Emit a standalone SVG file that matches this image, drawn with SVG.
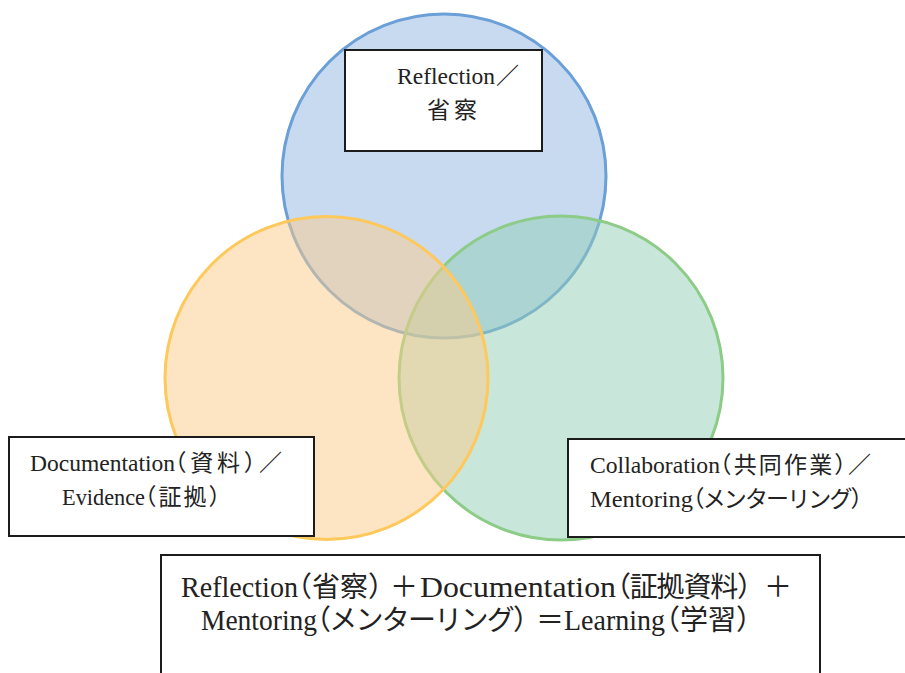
<svg xmlns="http://www.w3.org/2000/svg" width="905" height="673" viewBox="0 0 905 673">
  <style>
    .ring { stroke-width: 3; fill-opacity: 0.5; }
    .box { fill: #ffffff; stroke: #1c1c1c; stroke-width: 2; }
    .lbl { font-family: "Liberation Serif", "Noto Sans CJK JP", serif; font-size: 23px; fill: #222222; }
    .big { font-size: 28px; }
    .wide { font-size: 29px; }
    .cjk { font-feature-settings: "halt" 1; }
  </style>
  <rect width="905" height="673" fill="#ffffff"/>

  <!-- three overlapping circles -->
  <g id="circle-reflection">
    <circle class="ring" cx="444" cy="176" r="162" fill="#8fb5e1" stroke="#6a9fd8"/>
  </g>
  <g id="circle-collaboration">
    <circle class="ring" cx="561" cy="378" r="162" fill="#91cdb5" stroke="#8ccc87"/>
  </g>
  <g id="circle-documentation">
    <circle class="ring" cx="326.5" cy="378" r="161.5" fill="#fbcb89" stroke="#ffc85a"/>
  </g>

  <!-- label boxes -->
  <g id="box-reflection">
    <rect class="box" x="345" y="50" width="197" height="101"/>
    <text class="lbl" y="84"><tspan x="397" textLength="98" lengthAdjust="spacingAndGlyphs">Reflection</tspan><tspan class="cjk" x="496">／</tspan></text>
    <text class="lbl" y="118"><tspan class="cjk" x="427" textLength="50" lengthAdjust="spacing">省察</tspan></text>
  </g>

  <g id="box-documentation">
    <rect class="box" x="9" y="437" width="305" height="99"/>
    <text class="lbl" y="471"><tspan x="30" textLength="145" lengthAdjust="spacingAndGlyphs">Documentation</tspan><tspan class="cjk" x="175" textLength="107" lengthAdjust="spacing">（資料）／</tspan></text>
    <text class="lbl" y="505"><tspan x="62" textLength="83" lengthAdjust="spacingAndGlyphs">Evidence</tspan><tspan class="cjk" x="145" textLength="75" lengthAdjust="spacing">（証拠）</tspan></text>
  </g>

  <g id="box-collaboration">
    <rect class="box" x="568" y="439" width="340" height="98"/>
    <text class="lbl" y="473"><tspan x="590" textLength="130" lengthAdjust="spacingAndGlyphs">Collaboration</tspan><tspan class="cjk" x="720" textLength="151" lengthAdjust="spacing">（共同作業）／</tspan></text>
    <text class="lbl" y="507"><tspan x="590" textLength="103" lengthAdjust="spacingAndGlyphs">Mentoring</tspan><tspan class="cjk" x="693" textLength="169" lengthAdjust="spacing">（メンターリング）</tspan></text>
  </g>

  <g id="box-learning">
    <rect class="box" x="161" y="555" width="659" height="130"/>
    <text class="lbl big" y="597"><tspan class="wide" x="181" textLength="117" lengthAdjust="spacingAndGlyphs">Reflection</tspan><tspan class="cjk" x="298">（省察）</tspan><tspan class="cjk" x="390">＋</tspan><tspan class="wide" x="420" textLength="196" lengthAdjust="spacingAndGlyphs">Documentation</tspan><tspan class="cjk" x="617" textLength="134" lengthAdjust="spacing">（証拠資料）</tspan><tspan class="cjk" x="764">＋</tspan></text>
    <text class="lbl big" y="630"><tspan class="wide" x="201" textLength="116" lengthAdjust="spacingAndGlyphs">Mentoring</tspan><tspan class="cjk" x="317" textLength="210" lengthAdjust="spacing">（メンターリング）</tspan><tspan class="cjk" x="536">＝</tspan><tspan class="wide" x="564" textLength="101" lengthAdjust="spacingAndGlyphs">Learning</tspan><tspan class="cjk" x="666">（学習）</tspan></text>
  </g>
</svg>
